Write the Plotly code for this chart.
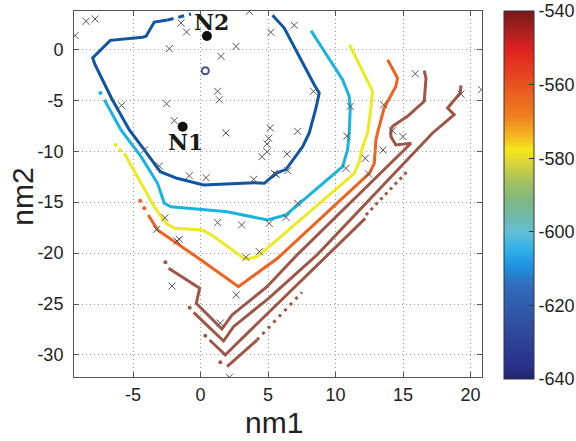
import plotly.graph_objects as go

# ---------------- data ----------------
X_TICKS = [-5, 0, 5, 10, 15, 20]
Y_TICKS = [0, -5, -10, -15, -20, -25, -30]
CB_TICKS = [-540, -560, -580, -600, -620, -640]

# sample points (x markers)
SAMPLE_X = [-8.49, -7.82, -9.3, -1.45, -1.04, -2.32, -5.85, -2.52, -1.95, 3.61, 6.94, 5.21, 2.62,
            1.51, 1.26, 1.39, 8.37, 11.09, 5.16, 7.19, 1.88, 15.90, 13.56, 19.29, 20.81, 14.22,
            5.04, 4.92, 4.92, 4.55, 6.40, 13.51, 14.99, 10.84, 12.20, 5.46, 5.62, 6.45, 3.93,
            10.77, 12.45, 7.19, 6.33, 5.09, 3.04, 1.26, 4.35, 3.36, -4.17, -3.06, -0.84, 0.40,
            -2.64, -3.26, -1.58, -1.75, -2.12, 2.64, 1.46, 2.13]
SAMPLE_Y = [2.75, 2.97, 1.35, 2.58, 1.70, 0.06, -5.50, -5.34, -7.00, 3.73, 2.36, 1.67, 0.29,
            -0.69, -4.12, -4.95, -4.12, -5.60, -7.72, -8.05, -8.21, -2.39, -5.44, -4.39, -3.96, -7.99,
            -8.73, -9.29, -10.05, -10.54, -10.27, -9.88, -8.57, -8.51, -10.70, -12.17, -12.30, -11.91, -12.76,
            -11.68, -12.24, -15.11, -16.49, -17.08, -17.24, -17.01, -19.86, -20.41, -9.88, -11.45, -12.40, -12.60,
            -16.53, -17.66, -18.65, -18.81, -23.23, -24.10, -26.86, -32.19]

# named nodes
NODE_NAMES = ["N1", "N2"]
NODE_X = [-1.33, 0.47]
NODE_Y = [-7.6, 1.3]
LABEL_X = [-1.1, 0.81]
LABEL_Y = [-9.07, 2.65]

# small closed contour (minimum)
RING_X = [0.35]
RING_Y = [-2.1]

# contour lines
DB_X = [5.33, 6.2, 8.42, 8.79, 8.55, 8.05, 7.56, 6.94, 6.33, 5.58, 4.72, 3.98, 1.01, 0.22, -1.75, -2.99,
        -4.17, -5.28, -6.6, -7.82, -8.0, -6.69, -4.3, -4.04, -3.43, -2.44]
DB_Y = [3.34, 2.09, -3.47, -4.29, -5.76, -8.21, -9.56, -10.7, -11.78, -12.17, -13.15, -13.09, -13.22, -13.32,
        -12.66, -12.01, -9.88, -7.92, -4.8, -1.51, -0.85, 0.88, 1.18, 1.28, 2.68, 2.88]
DB_DASH_X = [-2.44, -0.71]
DB_DASH_Y = [2.88, 3.46]

LB_X = [8.18, 10.52, 11.01, 11.09, 11.01, 10.89, 10.52, 7.19, 6.33, 4.96, 3.68, 1.96, 0.52, -2.19, -2.69,
        -3.19, -4.41, -5.9, -7.13]
LB_Y = [1.83, -2.98, -4.61, -5.76, -8.21, -9.88, -11.52, -15.28, -16.26, -16.75, -16.43, -15.94, -15.77,
        -15.45, -15.11, -13.15, -10.54, -7.92, -4.95]
LB_DOT_X = [-7.42]
LB_DOT_Y = [-4.29]

YE_X = [11.04, 12.74, 12.62, 12.37, 12.0, 11.76, 11.39, 4.22, 3.3, 1.01, 0.15, -1.95, -2.56, -3.43, -5.65]
YE_Y = [0.42, -4.12, -5.76, -8.21, -9.6, -11.03, -12.17, -20.35, -20.6, -18.39, -17.73, -17.57, -17.08,
        -15.45, -10.21]
YE_DOT_X = [-6.3, -5.95]
YE_DOT_Y = [-9.4, -9.9]

OR_X = [13.86, 14.59, 14.47, 13.6, 13.11, 12.99, 12.87, 12.5, 5.7, 2.81, 0.03, -1.95, -3.19, -3.87]
OR_Y = [-1.02, -2.82, -3.63, -5.76, -8.21, -8.9, -11.19, -12.17, -20.51, -23.3, -20.68, -18.88, -17.73,
        -16.26]
OR_DOT_X = [-4.47, -4.17]
OR_DOT_Y = [-14.86, -15.6]

BR1_X = [-2.37, -0.07, -0.32, 1.58, 2.33, 4.92, 7.14, 15.59, 14.47, 14.10, 14.10, 14.22, 15.33, 16.57,
         16.7, 16.57]
BR1_Y = [-21.49, -23.45, -24.93, -27.45, -26.07, -23.3, -20.19, -9.22, -9.39, -8.57, -7.89, -7.56, -6.58,
         -5.1, -2.82, -2.1]
BR2_X = [-0.52, 1.70, 2.44, 5.04, 8.62, 17.19, 18.79, 18.3, 19.24, 19.29]
BR2_Y = [-25.81, -28.63, -27.22, -24.44, -20.19, -8.21, -6.42, -5.76, -4.29, -3.53]
BR3_X = [0.67, 1.83, 2.57, 9.36, 12.2]
BR3_Y = [-28.53, -30.0, -29.02, -20.19, -16.59]
BR3_TAIL_X = [12.25, 14.47, 15.3]
BR3_TAIL_Y = [-16.26, -13.15, -12.0]
BR4_X = [1.96, 4.18]
BR4_Y = [-31.15, -28.53]
BR4_TAIL_X = [4.18, 7.51]
BR4_TAIL_Y = [-28.53, -23.85]
BR_DOT_X = [-2.61, -0.81, 0.35, 1.46]
BR_DOT_Y = [-20.9, -25.36, -28.1, -30.72]

# colour map (position along bar from -640 to -540)
CMAP_POS = [0.0, 0.034, 0.125, 0.216, 0.261, 0.306, 0.352, 0.397, 0.442, 0.488, 0.533, 0.578, 0.624,
            0.651, 0.714, 0.805, 0.896, 0.941, 1.0]
CMAP_COL = ["#21276f", "#28308a", "#304898", "#3060b0", "#3070c0", "#2090e0", "#30b0e8", "#60c0d8",
            "#70b8a8", "#80b880", "#a0c060", "#d0d040", "#f5e81a", "#f5c020", "#f08020", "#e85020",
            "#e02020", "#b02020", "#781818"]
C_MIN, C_MAX = -640, -540

C_DB = "#0f55a5"
C_LB = "#19b3df"
C_YE = "#eeea22"
C_OR = "#f2621f"
C_BR = "#9e5646"
C_RING = "#4e4a9a"

LW = 3

fig = go.Figure()


def line(xs, ys, color, dash="solid", width=LW):
    fig.add_trace(go.Scatter(x=xs, y=ys, mode="lines", hoverinfo="skip", showlegend=False,
                             line=dict(color=color, width=width, dash=dash, shape="linear")))


def dots(xs, ys, color, size=4):
    fig.add_trace(go.Scatter(x=xs, y=ys, mode="markers", hoverinfo="skip", showlegend=False,
                             marker=dict(color=color, size=size)))


line(DB_X, DB_Y, C_DB)
line(DB_DASH_X, DB_DASH_Y, C_DB, dash="6px,5px")
line(LB_X, LB_Y, C_LB)
dots(LB_DOT_X, LB_DOT_Y, C_LB)
line(YE_X, YE_Y, C_YE)
dots(YE_DOT_X, YE_DOT_Y, C_YE)
line(OR_X, OR_Y, C_OR)
dots(OR_DOT_X, OR_DOT_Y, C_OR)
line(BR1_X, BR1_Y, C_BR)
line(BR2_X, BR2_Y, C_BR)
line(BR3_X, BR3_Y, C_BR)
line(BR3_TAIL_X, BR3_TAIL_Y, C_BR, dash="3px,4px")
line(BR4_X, BR4_Y, C_BR)
line(BR4_TAIL_X, BR4_TAIL_Y, C_BR, dash="3px,5px")
dots(BR_DOT_X, BR_DOT_Y, C_BR)

# small ring
fig.add_trace(go.Scatter(x=RING_X, y=RING_Y, mode="markers", hoverinfo="skip", showlegend=False,
                         marker=dict(symbol="circle-open", size=7, color=C_RING, line=dict(width=2, color=C_RING))))

# sample crosses
fig.add_trace(go.Scatter(x=SAMPLE_X, y=SAMPLE_Y, mode="markers", hoverinfo="skip", showlegend=False,
                         marker=dict(symbol="x-thin", size=7, line=dict(width=1, color="#555555"),
                                     color="#555555")))

# nodes
fig.add_trace(go.Scatter(x=NODE_X, y=NODE_Y, mode="markers", hoverinfo="skip", showlegend=False,
                         marker=dict(color="#111111", size=10)))
for name, lx, ly in zip(NODE_NAMES, LABEL_X, LABEL_Y):
    fig.add_annotation(x=lx, y=ly, xref="x", yref="y", text="<b>" + name + "</b>", showarrow=False,
                       font=dict(family="DejaVu Serif", size=22, color="#1a1a1a"),
                       xanchor="center", yanchor="middle")

# colour bar carrier
fig.add_trace(go.Scatter(x=[NODE_X[0]], y=[NODE_Y[0]], mode="markers", hoverinfo="skip", showlegend=False,
                         marker=dict(size=1, opacity=0, color=[-600], cmin=C_MIN, cmax=C_MAX,
                                     colorscale=[[p, c] for p, c in zip(CMAP_POS, CMAP_COL)],
                                     showscale=True,
                                     colorbar=dict(x=(504 - 74) / 408, xanchor="left", xpad=0,
                                                   y=1, yanchor="top", ypad=0,
                                                   lenmode="pixels", len=368, thickness=30,
                                                   thicknessmode="pixels",
                                                   outlinecolor="#333333", outlinewidth=1,
                                                   tickmode="array", tickvals=CB_TICKS,
                                                   ticktext=[str(v) for v in CB_TICKS],
                                                   ticks="inside", ticklen=5, tickcolor="#333333",
                                                   tickfont=dict(family="Liberation Sans", size=18,
                                                                 color="#222222")))))

axis_common = dict(showgrid=True, gridcolor="#9a9a9a", gridwidth=1, griddash="1px,3px", zeroline=False,
                   showline=True, linecolor="#555555", linewidth=1, mirror="ticks", ticks="inside",
                   ticklen=5, tickcolor="#555555",
                   tickfont=dict(family="Liberation Sans", size=18, color="#222222"))

fig.update_layout(
    width=576, height=441,
    margin=dict(l=74, r=94, t=11, b=64, autoexpand=False),
    paper_bgcolor="white", plot_bgcolor="white",
    showlegend=False,
    xaxis=dict(range=[-9.38, 20.85], tickmode="array", tickvals=X_TICKS,
               ticktext=[str(v) for v in X_TICKS], ticklabelstandoff=1, automargin=False, **axis_common),
    yaxis=dict(range=[-32.16, 3.76], tickmode="array", tickvals=Y_TICKS,
               ticktext=[str(v) for v in Y_TICKS], ticklabelstandoff=6, automargin=False, **axis_common),
)

fig.add_annotation(text="nm1", xref="paper", yref="paper", x=0.49, y=-0.123, showarrow=False,
                   font=dict(family="Liberation Sans", size=30, color="#222222"),
                   xanchor="center", yanchor="middle")
fig.add_annotation(text="nm2", xref="paper", yref="paper", x=-0.127, y=0.493, showarrow=False,
                   textangle=-90, font=dict(family="Liberation Sans", size=30, color="#222222"),
                   xanchor="center", yanchor="middle")

# remove the browser's default body margin so the figure sits at the page origin
fig.write_html("out.html",
               config={"displayModeBar": False},
               post_script="document.body.style.margin='0';document.body.style.overflow='hidden';")
